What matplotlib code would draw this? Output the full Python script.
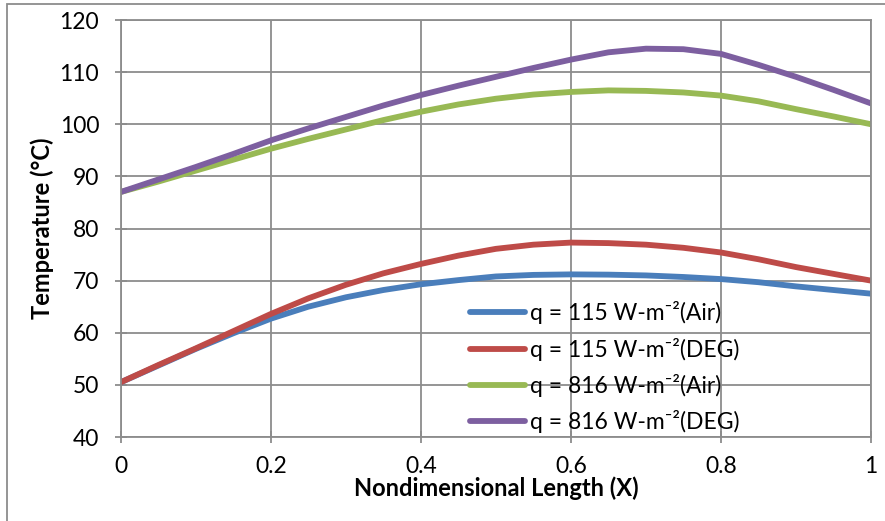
import matplotlib
matplotlib.use("Agg")
import matplotlib.pyplot as plt
from matplotlib.patches import Rectangle

plt.rcParams['font.family'] = ['Lato', 'DejaVu Sans']

x = [0, 0.05, 0.1, 0.15, 0.2, 0.25, 0.3, 0.35, 0.4, 0.45, 0.5,
     0.55, 0.6, 0.65, 0.7, 0.75, 0.8, 0.85, 0.9, 0.95, 1.0]

air_115 = [50.5, 53.7, 56.9, 59.9, 62.7, 65.0, 66.8, 68.2, 69.3, 70.1, 70.8,
           71.1, 71.2, 71.15, 71.0, 70.7, 70.3, 69.7, 68.9, 68.2, 67.5]
deg_115 = [50.5, 53.8, 57.0, 60.3, 63.6, 66.6, 69.2, 71.4, 73.2, 74.8, 76.1,
           76.9, 77.3, 77.2, 76.9, 76.3, 75.4, 74.1, 72.6, 71.3, 70.0]
air_816 = [87.0, 89.0, 91.1, 93.2, 95.3, 97.2, 99.0, 100.8, 102.4, 103.8, 104.9,
           105.7, 106.2, 106.5, 106.4, 106.1, 105.5, 104.4, 102.9, 101.5, 100.0]
deg_816 = [87.0, 89.4, 91.8, 94.3, 96.9, 99.2, 101.4, 103.6, 105.6, 107.4, 109.1,
           110.8, 112.4, 113.8, 114.5, 114.4, 113.5, 111.4, 109.1, 106.6, 104.0]

labels = ["q = 115 W-m\u207b\u00b2(Air)", "q = 115 W-m\u207b\u00b2(DEG)",
          "q = 816 W-m\u207b\u00b2(Air)", "q = 816 W-m\u207b\u00b2(DEG)"]
colors = ["#4a7ebb", "#be4b48", "#98b954", "#7d5fa0"]

fig = plt.figure(figsize=(8.85, 5.21), dpi=100)
ax = fig.add_axes([0.1364, 0.1612, 0.8478, 0.8004])

for ys, lab, c in zip([air_115, deg_115, air_816, deg_816], labels, colors):
    ax.plot(x, ys, color=c, lw=4.2, label=lab, solid_capstyle='round',
            solid_joinstyle='round')

ax.set_xlim(0, 1)
ax.set_ylim(40, 120)
ax.set_xticks([0, 0.2, 0.4, 0.6, 0.8, 1])
ax.set_xticklabels(["0", "0.2", "0.4", "0.6", "0.8", "1"])
ax.set_yticks(range(40, 121, 10))
ax.grid(True, color="#8c8c8c", lw=1.3)
ax.set_axisbelow(True)
for s in ax.spines.values():
    s.set_color("#8c8c8c")
    s.set_linewidth(1.3)
ax.tick_params(direction='inout', length=9, width=1.3, color="#8c8c8c",
               labelsize=16.5)
ax.tick_params(axis='x', pad=9)
ax.tick_params(axis='y', pad=11)

ax.set_xlabel("Nondimensional Length (X)", fontsize=17, fontweight='bold', labelpad=0)
ax.set_ylabel("Temperature (\u00b0C)", fontsize=17, fontweight='bold', labelpad=4)

leg = ax.legend(loc='upper left', bbox_to_anchor=(0.465, 0.325), frameon=False,
                fontsize=16.5, handlelength=2.4, handletextpad=0.22,
                labelspacing=0.58, borderaxespad=0, borderpad=0)

fig.patches.append(Rectangle((7 / 885, -0.1), 1.2, 1 - 4 / 521 + 0.1,
                             transform=fig.transFigure, fill=False,
                             edgecolor="#8c8c8c", lw=1.3))

fig.savefig("out.png", dpi=100)
